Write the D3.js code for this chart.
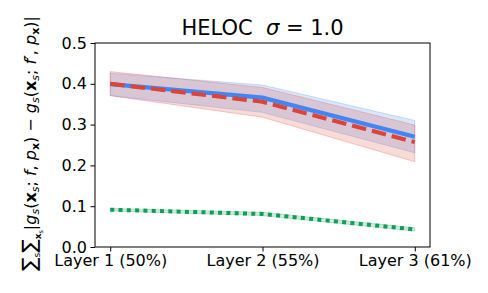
<!DOCTYPE html>
<html>
<head>
<meta charset="utf-8">
<script src="https://cdn.jsdelivr.net/npm/d3@7"></script>
<style>
  body { margin: 0; background: #fff; }
  text { font-family: "DejaVu Sans", sans-serif; fill: #000; }
</style>
</head>
<body>
<svg id="chart" width="488" height="293"></svg>
<script>
var layers = ["Layer 1 (50%)", "Layer 2 (55%)", "Layer 3 (61%)"];
var yTicks = [0.0, 0.1, 0.2, 0.3, 0.4, 0.5];

var blueMean = [0.399, 0.366, 0.270];
var blueLow  = [0.371, 0.330, 0.231];
var blueHigh = [0.426, 0.397, 0.310];

var redMean = [0.400, 0.356, 0.257];
var redLow  = [0.371, 0.318, 0.209];
var redHigh = [0.430, 0.391, 0.299];

var greenMean = [0.0915, 0.081, 0.043];
var greenLow  = [0.0885, 0.077, 0.039];
var greenHigh = [0.0945, 0.085, 0.047];

var svg = d3.select("#chart");
var mLeft = 95, mRight = 430, mTop = 43, mBottom = 247;

var x = d3.scaleLinear().domain([-0.1, 2.1]).range([mLeft, mRight]);
var y = d3.scaleLinear().domain([0, 0.5]).range([mBottom, mTop]);

function band(lo, hi) {
    return d3.area()
        .x(function(d, i) { return x(i) })
        .y0(function(d, i) { return y(lo[i]) })
        .y1(function(d, i) { return y(hi[i]) })(lo);
}
var line = d3.line()
    .x(function(d, i) { return x(i) })
    .y(function(d) { return y(d) });

var series = [
    { mean: blueMean, lo: blueLow, hi: blueHigh, color: "#4285F4", width: 4.2, dash: null },
    { mean: redMean, lo: redLow, hi: redHigh, color: "#DB4437", width: 4, dash: "14.5,6" },
    { mean: greenMean, lo: greenLow, hi: greenHigh, color: "#0F9D58", width: 4, dash: "4,4.3" }
];

series.forEach(function(s) {
    svg.append("path")
        .attr("d", band(s.lo, s.hi))
        .attr("fill", s.color)
        .attr("fill-opacity", 0.2)
        .attr("stroke", s.color)
        .attr("stroke-opacity", 0.25)
        .attr("stroke-width", 1);
});
series.forEach(function(s) {
    svg.append("path")
        .attr("d", line(s.mean))
        .attr("fill", "none")
        .attr("stroke", s.color)
        .attr("stroke-width", s.width)
        .attr("stroke-dasharray", s.dash);
});

// frame
svg.append("rect")
    .attr("x", mLeft).attr("y", mTop)
    .attr("width", mRight - mLeft).attr("height", mBottom - mTop)
    .attr("fill", "none").attr("stroke", "#000").attr("stroke-width", 1);

var xAxis = svg.append("g")
    .attr("transform", "translate(0," + mBottom + ")")
    .call(d3.axisBottom(x).tickValues([0, 1, 2]).tickFormat(function(d) { return layers[d] }).tickSize(4.5).tickPadding(3.5));
var yAxis = svg.append("g")
    .attr("transform", "translate(" + mLeft + ",0)")
    .call(d3.axisLeft(y).tickValues(yTicks).tickFormat(d3.format(".1f")).tickSize(4.5).tickPadding(3.5));
[xAxis, yAxis].forEach(function(a) {
    a.select(".domain").remove();
    a.selectAll("text").style("font-family", "DejaVu Sans").style("font-size", "16px").attr("fill", "#000");
    a.selectAll("line").attr("stroke", "#000");
});

// title
var title = svg.append("text")
    .attr("x", (mLeft + mRight) / 2).attr("y", 35)
    .attr("text-anchor", "middle")
    .style("white-space", "pre")
    .style("font-size", "21px");
title.append("tspan").text("HELOC  ");
title.append("tspan").style("font-style", "italic").text("σ");
title.append("tspan").text(" = 1.0");

// y label
var lab = svg.append("text")
    .attr("transform", "translate(36,271) rotate(-90)")
    .style("font-size", "16px");
var parts = [
    ["∑", "20px", null, 0],
    ["s", "9px", null, 4],
    ["∑", "20px", null, -4],
    ["x", "9px", "bold", 5],
    ["s", "6.5px", null, 2],
    ["|", "16px", null, -7],
    ["g", "16px", "italic", 0],
    ["s", "11px", "italic", 3],
    ["(", "16px", null, -3],
    ["x", "16px", "bold", 0],
    ["s", "11px", "italic", 3],
    ["; ", "16px", null, -3],
    ["f", "16px", "italic", 0],
    [", ", "16px", null, 0],
    ["p", "16px", "italic", 0],
    ["x", "11px", "bold", 3],
    [") − ", "16px", null, -3],
    ["g", "16px", "italic", 0],
    ["s", "11px", "italic", 3],
    ["(", "16px", null, -3],
    ["x", "16px", "bold", 0],
    ["s", "11px", "italic", 3],
    ["; ", "16px", null, -3],
    ["f′", "16px", "italic", 0],
    [", ", "16px", null, 0],
    ["p", "16px", "italic", 0],
    ["x", "11px", "bold", 3],
    [")|", "16px", null, -3]
];
parts.forEach(function(p) {
    var t = lab.append("tspan").text(p[0]).style("font-size", p[1]).attr("dy", p[3]);
    if (p[2] === "bold") t.style("font-weight", "bold");
    if (p[2] === "italic") t.style("font-style", "italic");
});
</script>
</body>
</html>
